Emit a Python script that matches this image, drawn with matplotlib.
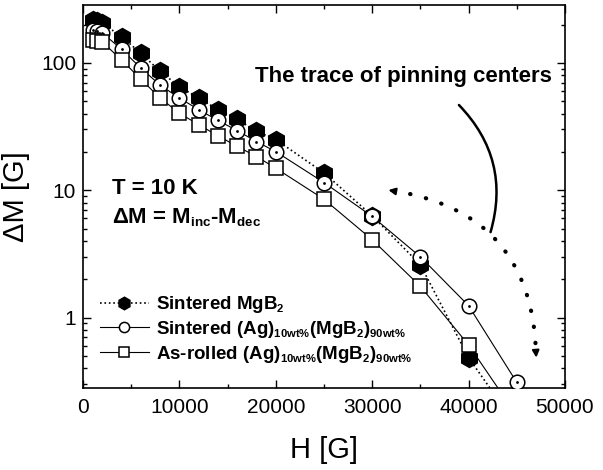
import matplotlib
matplotlib.use("Agg")
import matplotlib.pyplot as plt
import matplotlib._mathtext as mathtext_internals
from matplotlib.patches import FancyArrowPatch
from matplotlib.ticker import FixedLocator, FuncFormatter, LogLocator, MultipleLocator

plt.rcParams['font.family'] = ['Liberation Sans', 'DejaVu Sans']
plt.rcParams['mathtext.fontset'] = 'custom'
plt.rcParams['mathtext.rm'] = 'Liberation Sans:bold'
plt.rcParams['mathtext.default'] = 'rm'
# smaller subscripts, like the original figure
mathtext_internals.SHRINK_FACTOR = 0.6

# field H [G]
h_sint = [1000, 1500, 2000, 4000, 6000, 8000, 10000, 12000, 14000, 16000,
          18000, 20000, 25000, 30000, 35000, 40000, 45000]
# Sintered MgB2
dm_mgb2 = [217, 212, 205, 161, 119, 86, 65, 53, 43, 36,
           29, 25, 13.7, 6.3, 2.6, 0.485, 0.14]
# Sintered (Ag)10wt%(MgB2)90wt%
dm_ag_sint = [182, 178, 172, 128, 91, 67, 53, 43, 35.3, 29.4,
              24.1, 20.1, 11.5, 6.23, 3.0, 1.24, 0.31]
# As-rolled (Ag)10wt%(MgB2)90wt%
dm_ag_roll = [150, 148, 146, 105.6, 74.5, 53, 40.3, 32.7, 26.8, 22.1,
              18.4, 14.9, 8.5, 4.09, 1.76, 0.61, 0.17]

labels = [r"Sintered MgB$_2$",
          r"Sintered (Ag)$_{10wt\%}$(MgB$_2$)$_{90wt\%}$",
          r"As-rolled (Ag)$_{10wt\%}$(MgB$_2$)$_{90wt\%}$"]

fig = plt.figure(figsize=(6.03, 4.70), dpi=100)
ax = fig.add_axes([0.1376, 0.1745, 0.7993, 0.8149])

l1, = ax.plot(h_sint, dm_mgb2, ls=':', color='k', lw=1.2, marker='h', ms=13,
              mfc='k', mec='k', zorder=2, label=labels[0])
l2, = ax.plot(h_sint, dm_ag_sint, ls='-', color='k', lw=0.8, marker='o', ms=10.5,
              mfc='white', mec='k', mew=1.1, zorder=3, label=labels[1])
ax.plot(h_sint, dm_ag_sint, ls='none', marker='.', ms=2, color='k', zorder=3)
l3, = ax.plot(h_sint, dm_ag_roll, ls='-', color='k', lw=0.8, marker='s', ms=10.5,
              mfc='white', mec='k', mew=1.1, zorder=4, label=labels[2])

ax.set_yscale('log')
ax.set_xlim(0, 50000)
ax.set_ylim(0.28, 285)
ax.xaxis.set_major_locator(MultipleLocator(10000))
ax.xaxis.set_minor_locator(MultipleLocator(5000))
ax.yaxis.set_major_locator(FixedLocator([1, 10, 100]))
ax.yaxis.set_minor_locator(LogLocator(base=10, subs=range(2, 10)))
ax.yaxis.set_major_formatter(FuncFormatter(lambda v, p: f"{v:g}"))
ax.yaxis.set_minor_formatter(FuncFormatter(lambda v, p: ""))
ax.tick_params(which='both', direction='in', top=True, right=True,
               labelsize=15, width=1)
ax.tick_params(which='major', length=6)
ax.tick_params(which='minor', length=3)
ax.tick_params(axis='x', pad=7)
ax.tick_params(axis='y', pad=5)
for s in ax.spines.values():
    s.set_linewidth(1.2)

ax.set_xlabel("H [G]", fontsize=21, labelpad=14)
ax.set_ylabel("\u0394M [G]", fontsize=21, labelpad=8)

ax.text(0.357, 0.812, "The trace of pinning centers", transform=ax.transAxes,
        fontsize=16, fontweight='bold', va='center', ha='left')
ax.text(0.060, 0.522, "T = 10 K", transform=ax.transAxes,
        fontsize=16, fontweight='bold', va='center', ha='left')
ax.text(0.060, 0.444, "\u0394M = M$_{inc}$-M$_{dec}$", transform=ax.transAxes,
        fontsize=16, fontweight='bold', va='center', ha='left')

# solid curve
ax.add_patch(FancyArrowPatch((0.776, 0.744), (0.844, 0.40), transform=ax.transAxes,
                             connectionstyle="arc3,rad=-0.3", arrowstyle='-',
                             lw=1.8, color='k'))
# dotted arc with arrowheads
ax.add_patch(FancyArrowPatch((0.64, 0.516), (0.940, 0.085), transform=ax.transAxes,
                             connectionstyle="arc3,rad=-0.42", arrowstyle='-',
                             lw=3.0, color='k', linestyle=(0, (0.1, 3.8)),
                             capstyle='round'))
ax.annotate("", xy=(0.628, 0.518), xytext=(0.655, 0.512), xycoords='axes fraction',
            arrowprops=dict(arrowstyle='-|>', color='k', lw=1.5, mutation_scale=10))
ax.annotate("", xy=(0.941, 0.072), xytext=(0.939, 0.105), xycoords='axes fraction',
            arrowprops=dict(arrowstyle='-|>', color='k', lw=1.5, mutation_scale=10))

ax.legend(handles=[l1, l2, l3], loc='upper left', bbox_to_anchor=(0.035, 0.245),
          frameon=False, prop={'weight': 'bold', 'size': 13.5}, markerscale=0.7,
          handlelength=2.6, handletextpad=0.4, labelspacing=0.2,
          borderpad=0, borderaxespad=0)

fig.savefig("out.png", dpi=100)
